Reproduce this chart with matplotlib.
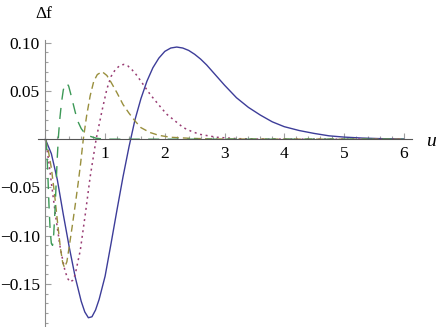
import matplotlib
matplotlib.use('Agg')
import matplotlib.pyplot as plt
from matplotlib.ticker import MultipleLocator, FixedLocator

plt.rcParams['font.family'] = ['Liberation Serif', 'DejaVu Serif']

# curve samples
u_blue = [0, 0.1, 0.2, 0.3, 0.4, 0.5, 0.6, 0.66, 0.72, 0.78, 0.84, 0.9, 1.0, 1.1, 1.2, 1.3, 1.4,
          1.5, 1.6, 1.7, 1.8, 1.9, 2.0, 2.1, 2.2, 2.3, 2.4, 2.5, 2.6, 2.7, 2.8, 2.9, 3.0, 3.2, 3.4,
          3.6, 3.8, 4.0, 4.25, 4.5, 4.75, 5.0, 5.3, 5.6, 6.0]
f_blue = [0, -0.015, -0.042, -0.078, -0.112, -0.143, -0.168, -0.179, -0.185, -0.184, -0.177,
          -0.166, -0.142, -0.108, -0.073, -0.039, -0.008, 0.020, 0.042, 0.060, 0.074, 0.084, 0.091,
          0.0945, 0.0955, 0.0945, 0.092, 0.088, 0.083, 0.077, 0.070, 0.063, 0.056, 0.043, 0.033,
          0.025, 0.018, 0.013, 0.009, 0.006, 0.0035, 0.0022, 0.0012, 0.0006, 0.0002]

u_mag = [0, 0.05, 0.1, 0.17, 0.25, 0.33, 0.38, 0.42, 0.46, 0.5, 0.585, 0.67, 0.75, 0.85, 0.95,
         1.03, 1.1, 1.17, 1.24, 1.31, 1.38, 1.45, 1.52, 1.59, 1.68, 1.76, 1.92, 2.03, 2.15, 2.31,
         2.45, 2.59, 2.87, 3.2, 3.6, 6.0]
f_mag = [0, -0.020, -0.045, -0.079, -0.113, -0.137, -0.145, -0.148, -0.146, -0.140, -0.115,
         -0.077, -0.039, 0, 0.030, 0.052, 0.065, 0.072, 0.076, 0.0775, 0.076, 0.072, 0.067, 0.061,
         0.053, 0.046, 0.034, 0.026, 0.020, 0.012, 0.008, 0.005, 0.002, 0.0006, 0.0001, 0]

u_olive = [0, 0.05, 0.1, 0.15, 0.2, 0.25, 0.29, 0.32, 0.36, 0.40, 0.45, 0.50, 0.55, 0.59, 0.635,
           0.69, 0.75, 0.81, 0.87, 0.95, 1.03, 1.1, 1.2, 1.3, 1.4, 1.5, 1.6, 1.75, 1.9, 2.1, 2.4,
           2.8, 6.0]
f_olive = [0, -0.012, -0.030, -0.055, -0.084, -0.112, -0.128, -0.133, -0.127, -0.111, -0.090,
           -0.068, -0.045, -0.025, 0, 0.024, 0.045, 0.060, 0.067, 0.070, 0.066, 0.059, 0.048, 0.036,
           0.027, 0.019, 0.012, 0.007, 0.004, 0.002, 0.001, 0.0002, 0]

u_green = [0, 0.02, 0.04, 0.06, 0.08, 0.10, 0.12, 0.14, 0.16, 0.18, 0.20, 0.22, 0.24, 0.27, 0.30,
           0.33, 0.36, 0.39, 0.42, 0.46, 0.50, 0.54, 0.60, 0.66, 0.75, 0.85, 1.0, 6.0]
f_green = [0, -0.008, -0.035, -0.068, -0.095, -0.108, -0.110, -0.098, -0.075, -0.046, -0.018,
           0.004, 0.020, 0.038, 0.051, 0.057, 0.058, 0.055, 0.048, 0.038, 0.028, 0.019, 0.011,
           0.006, 0.003, 0.001, 0, 0]

x_ticks = [1, 2, 3, 4, 5, 6]
y_ticks = [-0.15, -0.10, -0.05, 0.05, 0.10]
y_labels = ['\u22120.15', '\u22120.10', '\u22120.05', '0.05', '0.10']

W, H = 436, 327
fig = plt.figure(figsize=(W / 100, H / 100), dpi=100)

# axes box in pixels: x-axis from px 37.8 to 412, y-axis from px 40 to 327
x0, x1 = -0.127, 6.14
y0, y1 = -0.1946, 0.1028
ax = fig.add_axes([37.8 / W, 0, (412 - 37.8) / W, (327 - 40) / H])
ax.set_xlim(x0, x1)
ax.set_ylim(y0, y1)

ax.plot(u_blue, f_blue, color='#3d3d99', lw=1.0)
ax.plot(u_mag, f_mag, color='#993d74', lw=1.1, dashes=(1.3, 2.4))
ax.plot(u_olive, f_olive, color='#998f3d', lw=1.0, dashes=(5, 3))
ax.plot(u_green, f_green, color='#3d9957', lw=1.0, dashes=(8, 6))

for s in ['top', 'right']:
    ax.spines[s].set_visible(False)
ax.spines['left'].set_position(('data', 0))
ax.spines['bottom'].set_position(('data', 0))
ax.spines['left'].set_color('#8a8a8a')
ax.spines['bottom'].set_color('#555555')
for s in ['left', 'bottom']:
    ax.spines[s].set_linewidth(0.8)

serif = {'family': 'Liberation Serif', 'size': 12.5}
ax.xaxis.set_major_locator(FixedLocator(x_ticks))
ax.xaxis.set_minor_locator(MultipleLocator(0.2))
ax.yaxis.set_major_locator(FixedLocator(y_ticks))
ax.yaxis.set_minor_locator(MultipleLocator(0.01))
ax.set_xticklabels([str(t) for t in x_ticks], fontdict=serif)
ax.set_yticklabels(y_labels, fontdict=serif)

ax.tick_params(which='both', direction='in', color='#a0a0a0', width=0.8)
ax.tick_params(which='major', length=4.5)
ax.tick_params(which='minor', length=2.5)
ax.tick_params(axis='x', which='major', pad=5)
ax.tick_params(axis='y', which='major', pad=4)

fig.text(44 / W, 1 - 14 / H, '\u0394f', fontdict=serif, ha='center', va='center')
fig.text(431 / W, 1 - 141 / H, 'u', family='Liberation Serif', style='italic', fontsize=14,
         ha='center', va='center')

fig.savefig('out.png', dpi=100)
